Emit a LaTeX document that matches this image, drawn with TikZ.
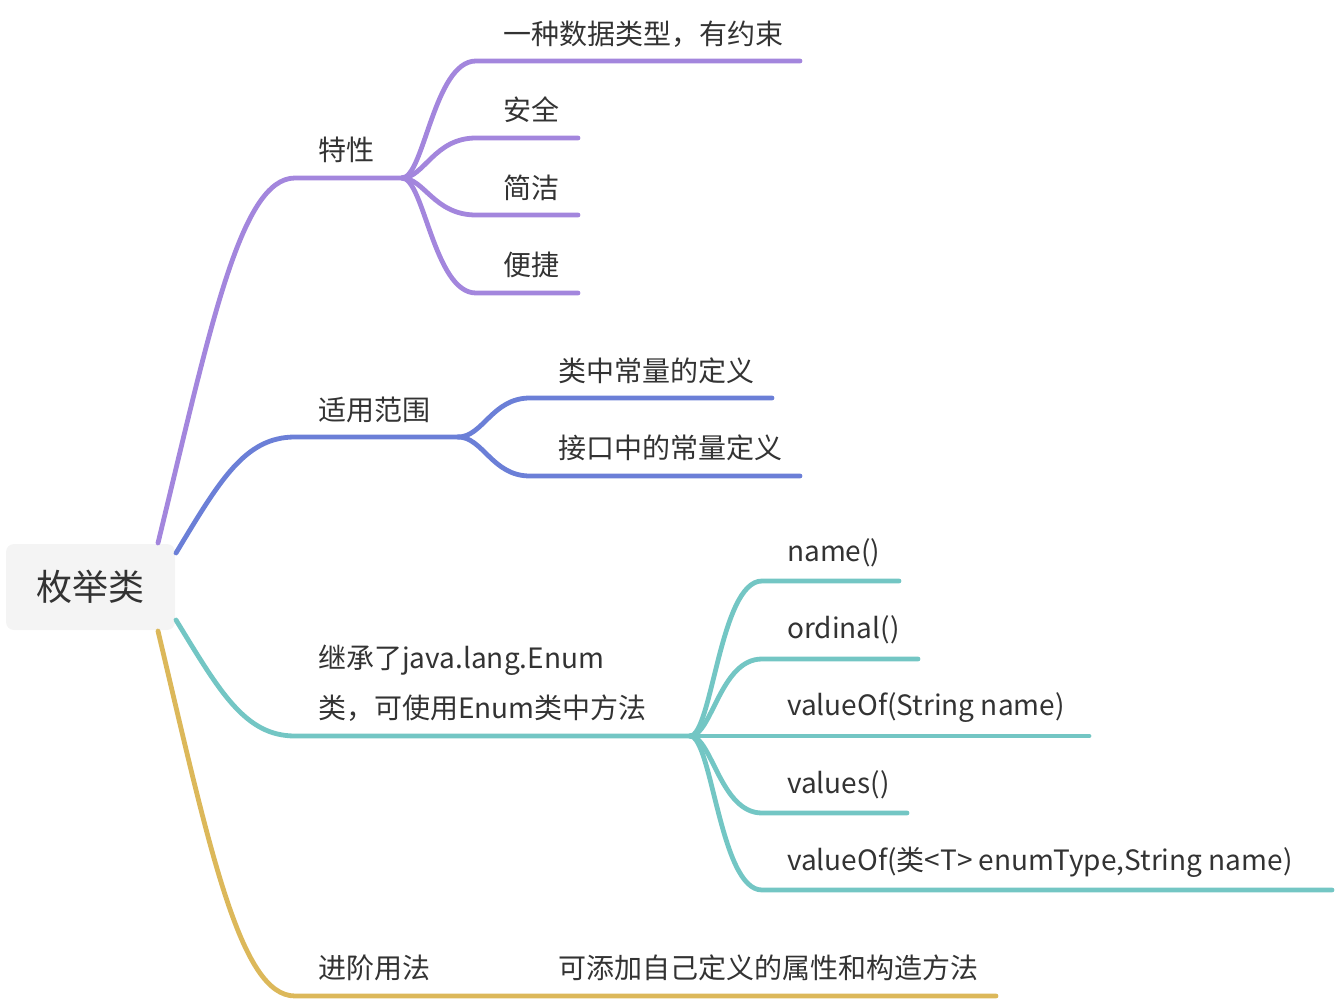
\documentclass[tikz,border=0pt]{standalone}
\usepackage{fontspec}
\setmainfont{Noto Sans CJK SC}
\definecolor{mmpurple}{HTML}{A386DD}
\definecolor{mmblue}{HTML}{6B7FD7}
\definecolor{mmteal}{HTML}{73C6C4}
\definecolor{mmgold}{HTML}{DCB85A}
\definecolor{mmgray}{HTML}{F4F4F4}
\definecolor{mmtext}{HTML}{333333}

\begin{document}
\begin{tikzpicture}[x=1pt,y=-1pt,
  lbl/.style={anchor=west,inner sep=0pt,text=mmtext,font=\fontsize{28}{33}\selectfont},
  edge/.style={line width=4.8pt,line cap=round}]
  \useasboundingbox (0,0) rectangle (1336,1000);
  % root
  \node[fill=mmgray,rounded corners=8pt,minimum width=169pt,minimum height=86pt,
        text=mmtext,font=\fontsize{36}{40}\selectfont] (root) at (90.5,587) {枚举类};
  \coordinate (rp) at (158,543);
  \coordinate (rb) at (176,553);
  \coordinate (rt) at (176,620);
  \coordinate (rg) at (158,631);
  % 特性
  \node[lbl] (tx) at (318,150) {特性};
  \coordinate (txs) at (295,178);
  \coordinate (txj) at (402,178);
  \draw[edge,mmpurple] (rp) .. controls (210,330) and (240,178) .. (txs) -- (txj);
  \node[lbl] (tx1) at (503,34) {一种数据类型，有约束};
  \node[lbl] (tx2) at (503,110) {安全};
  \node[lbl] (tx3) at (503,188) {简洁};
  \node[lbl] (tx4) at (503,265) {便捷};
  \coordinate (tx1s) at (476,61);  \coordinate (tx1e) at (800,61);
  \coordinate (tx2s) at (476,138); \coordinate (tx2e) at (578,138);
  \coordinate (tx3s) at (476,215); \coordinate (tx3e) at (578,215);
  \coordinate (tx4s) at (476,293); \coordinate (tx4e) at (578,293);
  \draw[edge,mmpurple] (txj) .. controls +(22,0) and +(-42,0) .. (tx1s) -- (tx1e);
  \draw[edge,mmpurple] (txj) .. controls +(22,0) and +(-42,0) .. (tx2s) -- (tx2e);
  \draw[edge,mmpurple] (txj) .. controls +(22,0) and +(-42,0) .. (tx3s) -- (tx3e);
  \draw[edge,mmpurple] (txj) .. controls +(22,0) and +(-42,0) .. (tx4s) -- (tx4e);
  % 适用范围
  \node[lbl] (sy) at (318,410) {适用范围};
  \coordinate (sys) at (295,437);
  \coordinate (syj) at (458,437);
  \draw[edge,mmblue] (rb) .. controls (220,480) and (245,437) .. (sys) -- (syj);
  \node[lbl] (sy1) at (558,371) {类中常量的定义};
  \node[lbl] (sy2) at (558,448) {接口中的常量定义};
  \coordinate (sy1s) at (530,398); \coordinate (sy1e) at (772,398);
  \coordinate (sy2s) at (530,476); \coordinate (sy2e) at (800,476);
  \draw[edge,mmblue] (syj) .. controls +(25,0) and +(-38,0) .. (sy1s) -- (sy1e);
  \draw[edge,mmblue] (syj) .. controls +(25,0) and +(-38,0) .. (sy2s) -- (sy2e);
  % 继承
  \node[lbl] (jc) at (318,660) {继承了java.lang.Enum};
  \node[lbl] (jcb) at (318,708) {类，可使用Enum类中方法};
  \coordinate (jcs) at (295,736);
  \coordinate (jcj) at (690,736);
  \draw[edge,mmteal] (rt) .. controls (220,692) and (245,736) .. (jcs) -- (jcj);
  \node[lbl] (jc1) at (787,553) {name()};
  \node[lbl] (jc2) at (787,630) {ordinal()};
  \node[lbl] (jc3) at (787,708) {valueOf(String name)};
  \node[lbl] (jc4) at (787,785) {values()};
  \node[lbl] (jc5) at (787,862) {valueOf(类<T> enumType,String name)};
  \coordinate (jc1s) at (762,581); \coordinate (jc1e) at (899,581);
  \coordinate (jc2s) at (762,659); \coordinate (jc2e) at (918,659);
  \coordinate (jc3e) at (1089,736);
  \coordinate (jc4s) at (762,813); \coordinate (jc4e) at (907,813);
  \coordinate (jc5s) at (762,890); \coordinate (jc5e) at (1332,890);
  \draw[edge,mmteal] (jcj) .. controls +(22,0) and +(-42,0) .. (jc1s) -- (jc1e);
  \draw[edge,mmteal] (jcj) .. controls +(22,0) and +(-42,0) .. (jc2s) -- (jc2e);
  \draw[edge,mmteal] (jcj) -- (jc3e);
  \draw[edge,mmteal] (jcj) .. controls +(22,0) and +(-42,0) .. (jc4s) -- (jc4e);
  \draw[edge,mmteal] (jcj) .. controls +(22,0) and +(-42,0) .. (jc5s) -- (jc5e);
  % 进阶用法
  \node[lbl] (jj) at (318,968) {进阶用法};
  \node[lbl] (jj1) at (558,968) {可添加自己定义的属性和构造方法};
  \coordinate (jjs) at (295,996);
  \coordinate (jj1e) at (996,996);
  \draw[edge,mmgold] (rg) .. controls (210,850) and (240,996) .. (jjs) -- (jj1e);
\end{tikzpicture}
\end{document}
